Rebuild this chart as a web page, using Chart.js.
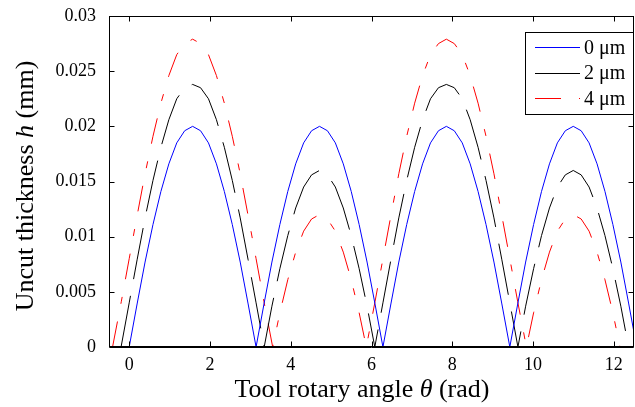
<!DOCTYPE html>
<html>
<head>
<meta charset="utf-8">
<script src="https://cdn.jsdelivr.net/npm/chart.js"></script>
<style>
html,body{margin:0;padding:0;background:#fff;}
#wrap{width:635px;height:407px;position:relative;}
</style>
</head>
<body>
<div id="wrap"><canvas id="c" width="635" height="407"></canvas></div>
<script>
// ---- data ----
const seriesLabels = ['0 \u03bcm', '2 \u03bcm', '4 \u03bcm'];

const thetaBlue = [0, 0.196, 0.393, 0.589, 0.785, 0.982, 1.178, 1.374, 1.571, 1.767, 1.963, 2.16, 2.356, 2.553, 2.749, 2.945,
  3.142, 3.338, 3.534, 3.731, 3.927, 4.123, 4.32, 4.516, 4.712, 4.909, 5.105, 5.301, 5.498, 5.694, 5.89, 6.087,
  6.283, 6.48, 6.676, 6.872, 7.069, 7.265, 7.461, 7.658, 7.854, 8.05, 8.247, 8.443, 8.639, 8.836, 9.032, 9.228,
  9.425, 9.621, 9.817, 10.014, 10.21, 10.407, 10.603, 10.799, 10.996, 11.192, 11.388, 11.585, 11.781, 11.977, 12.174, 12.37,
  12.566];
const hBlue = [0, 0.0039, 0.0077, 0.0111, 0.0141, 0.0166, 0.0185, 0.0196, 0.02, 0.0196, 0.0185, 0.0166, 0.0141, 0.0111, 0.0077, 0.0039,
  0, 0.0039, 0.0077, 0.0111, 0.0141, 0.0166, 0.0185, 0.0196, 0.02, 0.0196, 0.0185, 0.0166, 0.0141, 0.0111, 0.0077, 0.0039,
  0, 0.0039, 0.0077, 0.0111, 0.0141, 0.0166, 0.0185, 0.0196, 0.02, 0.0196, 0.0185, 0.0166, 0.0141, 0.0111, 0.0077, 0.0039,
  0, 0.0039, 0.0077, 0.0111, 0.0141, 0.0166, 0.0185, 0.0196, 0.02, 0.0196, 0.0185, 0.0166, 0.0141, 0.0111, 0.0077, 0.0039,
  0];

const thetaBlack = [-0.201, 0, 0.196, 0.393, 0.589, 0.785, 0.982, 1.178, 1.374, 1.571, 1.767, 1.963, 2.16, 2.356, 2.553, 2.749, 2.945, 3.142,
  3.343, 3.534, 3.731, 3.927, 4.123, 4.32, 4.516, 4.712, 4.909, 5.105, 5.301, 5.498, 5.694, 5.89,
  6.082, 6.283, 6.48, 6.676, 6.872, 7.069, 7.265, 7.461, 7.658, 7.854, 8.05, 8.247, 8.443, 8.639, 8.836, 9.032, 9.228, 9.425,
  9.626, 9.817, 10.014, 10.21, 10.407, 10.603, 10.799, 10.996, 11.192, 11.388, 11.585, 11.781, 11.977, 12.174,
  12.365];
const hBlack = [0, 0.004, 0.0079, 0.0117, 0.0151, 0.0181, 0.0206, 0.0225, 0.0235, 0.0238, 0.0235, 0.0225, 0.0206, 0.0181, 0.0151, 0.0117, 0.0079, 0.004,
  0, 0.0037, 0.0071, 0.0101, 0.0126, 0.0145, 0.0156, 0.016, 0.0156, 0.0145, 0.0126, 0.0101, 0.0071, 0.0037,
  0, 0.004, 0.0079, 0.0117, 0.0151, 0.0181, 0.0206, 0.0225, 0.0235, 0.0238, 0.0235, 0.0225, 0.0206, 0.0181, 0.0151, 0.0117, 0.0079, 0.004,
  0, 0.0037, 0.0071, 0.0101, 0.0126, 0.0145, 0.0156, 0.016, 0.0156, 0.0145, 0.0126, 0.0101, 0.0071, 0.0037,
  0];

const thetaRed = [-0.412, -0.196, 0, 0.196, 0.393, 0.589, 0.785, 0.982, 1.178, 1.374, 1.571, 1.767, 1.963, 2.16, 2.356, 2.553, 2.749, 2.945, 3.142, 3.338,
  3.553, 3.731, 3.927, 4.123, 4.32, 4.516, 4.712, 4.909, 5.105, 5.301, 5.498, 5.694,
  5.871, 6.087, 6.283, 6.48, 6.676, 6.872, 7.069, 7.265, 7.461, 7.658, 7.854, 8.05, 8.247, 8.443, 8.639, 8.836, 9.032, 9.228, 9.425, 9.621,
  9.836, 10.014, 10.21, 10.407, 10.603, 10.799, 10.996, 11.192, 11.388, 11.585, 11.781, 11.977,
  12.154];
const hRed = [0, 0.0041, 0.008, 0.0119, 0.0157, 0.0191, 0.0221, 0.0246, 0.0265, 0.0275, 0.0279, 0.0275, 0.0265, 0.0246, 0.0221, 0.0191, 0.0157, 0.0119, 0.008, 0.0041,
  0, 0.0031, 0.0061, 0.0086, 0.0105, 0.0116, 0.012, 0.0116, 0.0105, 0.0086, 0.0061, 0.0031,
  0, 0.0041, 0.008, 0.0119, 0.0157, 0.0191, 0.0221, 0.0246, 0.0265, 0.0275, 0.0279, 0.0275, 0.0265, 0.0246, 0.0221, 0.0191, 0.0157, 0.0119, 0.008, 0.0041,
  0, 0.0031, 0.0061, 0.0086, 0.0105, 0.0116, 0.012, 0.0116, 0.0105, 0.0086, 0.0061, 0.0031,
  0];

const xTickValues = [0, 2, 4, 6, 8, 10, 12];
const xTickLabels = ['0', '2', '4', '6', '8', '10', '12'];
const yTickValues = [0, 0.005, 0.01, 0.015, 0.02, 0.025, 0.03];
const yTickLabels = ['0', '0.005', '0.01', '0.015', '0.02', '0.025', '0.03'];
const xTitleParts = [['Tool rotary angle ', false], ['\u03b8', true], [' (rad)', false]];
const yTitleParts = [['Uncut thickness ', false], ['h', true], [' (mm)', false]];

// ---- styles ----
const seriesColors = ['#0000ff', '#000000', '#ff0000'];
const seriesDashes = [[], [52, 17], [26, 18, 7, 18]];

const FONT = "'Liberation Serif', 'Times New Roman', serif";
Chart.defaults.font.family = FONT;
Chart.defaults.color = '#000';

function pts(xs, ys) { return xs.map((v, i) => ({x: v, y: ys[i]})); }

function drawParts(ctx, parts, size, x, y) {
  let total = 0;
  parts.forEach(p => { ctx.font = (p[1] ? 'italic ' : '') + size + 'px ' + FONT; total += ctx.measureText(p[0]).width; });
  let cx = x - total / 2;
  parts.forEach(p => {
    ctx.font = (p[1] ? 'italic ' : '') + size + 'px ' + FONT;
    ctx.fillText(p[0], cx, y);
    cx += ctx.measureText(p[0]).width;
  });
}

const decorPlugin = {
  id: 'decor',
  afterDraw(chart) {
    const {ctx, chartArea: a, scales} = chart;
    const xs = scales.x, ys = scales.y;
    ctx.save();
    ctx.strokeStyle = '#000';
    ctx.lineWidth = 1;
    ctx.setLineDash([]);
    const L = Math.round(a.left) + 0.5, R = Math.round(a.right) - 0.5;
    const T = Math.round(a.top) + 0.5, B = Math.round(a.bottom) - 0.5;
    ctx.strokeRect(L, T, R - L, B - T);
    const tl = 5;
    ctx.beginPath();
    xs.ticks.forEach(t => {
      const px = Math.round(xs.getPixelForValue(t.value)) + 0.5;
      ctx.moveTo(px, B); ctx.lineTo(px, B - tl);
      ctx.moveTo(px, T); ctx.lineTo(px, T + tl);
    });
    ys.ticks.forEach(t => {
      const py = Math.round(ys.getPixelForValue(t.value)) + 0.5;
      ctx.moveTo(L, py); ctx.lineTo(L + tl, py);
      ctx.moveTo(R, py); ctx.lineTo(R - tl, py);
    });
    ctx.stroke();
    ctx.beginPath(); ctx.moveTo(L, B + 1); ctx.lineTo(R, B + 1); ctx.stroke();

    // axis titles
    ctx.fillStyle = '#000';
    ctx.textBaseline = 'alphabetic';
    ctx.textAlign = 'left';
    drawParts(ctx, xTitleParts, 26, 362, 397);
    ctx.save();
    ctx.translate(32.5, 186);
    ctx.rotate(-Math.PI / 2);
    drawParts(ctx, yTitleParts, 26, 0, 0);
    ctx.restore();

    // legend
    const bx = 525.5, by = 32.5, bw = 108, bh = 82;
    ctx.fillStyle = '#fff';
    ctx.fillRect(bx, by, bw, bh);
    ctx.strokeStyle = '#000';
    ctx.lineWidth = 1;
    ctx.strokeRect(bx, by, bw, bh);
    const rowsY = [47, 72.5, 98];
    seriesLabels.forEach((lab, i) => {
      const yy = Math.round(rowsY[i]) + 0.5;
      ctx.strokeStyle = seriesColors[i];
      ctx.lineWidth = 1;
      ctx.setLineDash(seriesDashes[i]);
      ctx.beginPath(); ctx.moveTo(535, yy); ctx.lineTo(580, yy); ctx.stroke();
      ctx.setLineDash([]);
      ctx.fillStyle = '#000';
      ctx.font = '20px ' + FONT;
      ctx.textBaseline = 'middle';
      ctx.fillText(lab, 584, rowsY[i] + 1.5);
    });
    ctx.restore();
  }
};

new Chart(document.getElementById('c'), {
  type: 'line',
  data: {
    datasets: [
      {label: seriesLabels[0], data: pts(thetaBlue, hBlue), borderColor: seriesColors[0], borderWidth: 1, borderDash: seriesDashes[0], pointRadius: 0, tension: 0, fill: false},
      {label: seriesLabels[1], data: pts(thetaBlack, hBlack), borderColor: seriesColors[1], borderWidth: 1, borderDash: seriesDashes[1], pointRadius: 0, tension: 0, fill: false},
      {label: seriesLabels[2], data: pts(thetaRed, hRed), borderColor: seriesColors[2], borderWidth: 1, borderDash: seriesDashes[2], pointRadius: 0, tension: 0, fill: false}
    ]
  },
  options: {
    responsive: false,
    animation: false,
    devicePixelRatio: 1,
    layout: {padding: {top: 16, right: 1, left: 0, bottom: 0}},
    plugins: {legend: {display: false}, tooltip: {enabled: false}},
    scales: {
      x: {
        type: 'linear', min: -0.5, max: 12.5,
        grid: {display: false}, border: {display: false},
        afterBuildTicks: s => { s.ticks = xTickValues.map(v => ({value: v})); },
        afterFit: s => { s.height = 60; s.paddingLeft = 0; s.paddingRight = 0; },
        ticks: {font: {size: 18}, padding: -1, maxRotation: 0, autoSkip: false,
          callback: (v, i) => xTickLabels[i]}
      },
      y: {
        type: 'linear', min: 0, max: 0.03,
        grid: {display: false}, border: {display: false},
        afterBuildTicks: s => { s.ticks = yTickValues.map(v => ({value: v})); },
        afterFit: s => { s.width = 109; s.paddingTop = 0; s.paddingBottom = 0; },
        ticks: {font: {size: 18}, padding: 5, autoSkip: false,
          callback: (v, i) => yTickLabels[i]}
      }
    }
  },
  plugins: [decorPlugin]
});
</script>
</body>
</html>
